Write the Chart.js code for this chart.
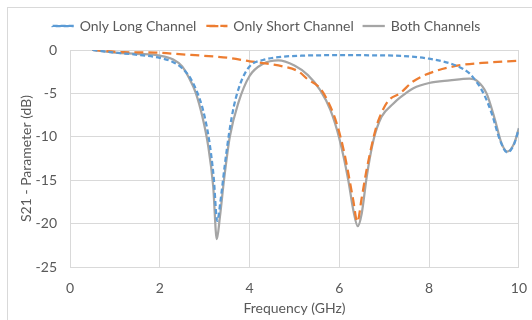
<!DOCTYPE html>
<html>
<head>
<meta charset="utf-8">
<script src="https://cdn.jsdelivr.net/npm/chart.js@4/dist/chart.umd.min.js"></script>
<style>
  html, body { margin: 0; padding: 0; background: #fff; }
  #wrap { position: relative; width: 532px; height: 320px; overflow: hidden; }
  #frame { position: absolute; left: 7px; top: 7px; width: 600px; height: 400px; border: 1px solid #d9d9d9; }
  canvas { position: absolute; left: 0; top: 0; }
</style>
</head>
<body>
<div id="wrap">
  <div id="frame"></div>
  <canvas id="s21Graf" width="532" height="320"></canvas>
</div>
<script>
// Only Long Channel
var longFreq = [0.5, 1.0, 1.5, 2.0, 2.3, 2.5, 2.7, 2.9, 3.0, 3.1, 3.2, 3.28, 3.35, 3.45, 3.55, 3.65, 3.8, 4.0, 4.3, 4.7, 5.2, 6.0, 7.0, 7.6, 8.0, 8.3, 8.6, 8.9, 9.1, 9.25, 9.4, 9.58, 9.74, 9.88, 10];
var longS21 = [0, -0.3, -0.55, -0.9, -1.4, -2.1, -3.4, -5.8, -7.7, -10.4, -14.6, -19.7, -17.5, -13.2, -9.4, -6.5, -3.8, -1.9, -1.15, -0.8, -0.65, -0.6, -0.62, -0.75, -1.0, -1.3, -1.8, -2.7, -4.0, -5.4, -7.4, -10.4, -11.8, -11.0, -9.1];

// Only Short Channel
var shortFreq = [0.5, 1.2, 1.9, 2.5, 3.2, 3.6, 4.0, 4.3, 4.75, 5.1, 5.3, 5.57, 5.8, 5.95, 6.1, 6.2, 6.31, 6.4, 6.5, 6.6, 6.7, 6.8, 6.9, 7.1, 7.35, 7.65, 8.1, 8.7, 9.3, 10];
var shortS21 = [0, -0.25, -0.3, -0.5, -0.75, -0.95, -1.3, -1.5, -1.9, -2.5, -3.4, -4.4, -6.5, -8.6, -11.6, -14.2, -17.3, -19.8, -17.0, -14.0, -11.5, -9.3, -7.7, -5.8, -5.0, -3.6, -2.5, -1.75, -1.45, -1.25];

// Both Channels
var bothFreq = [0.5, 1.0, 1.5, 2.0, 2.3, 2.5, 2.65, 2.8, 2.95, 3.08, 3.19, 3.27, 3.34, 3.43, 3.56, 3.75, 4.0, 4.3, 4.64, 5.0, 5.3, 5.57, 5.8, 6.0, 6.2, 6.31, 6.41, 6.5, 6.61, 6.76, 6.94, 7.2, 7.35, 7.65, 8.0, 8.46, 8.9, 9.08, 9.28, 9.47, 9.61, 9.74, 9.9, 10];
var bothS21 = [0, -0.3, -0.45, -0.65, -1.1, -1.9, -3.2, -4.9, -7.7, -11.1, -15.7, -21.8, -19.2, -15.0, -10.0, -6.1, -3.0, -1.6, -1.2, -1.8, -2.9, -4.6, -6.9, -10.2, -15.0, -18.4, -20.3, -18.8, -14.6, -10.4, -7.7, -6.2, -5.5, -4.4, -3.8, -3.5, -3.3, -3.6, -5.0, -8.1, -10.7, -11.7, -10.7, -9.0];

var xTicks = [0, 2, 4, 6, 8, 10];
var yTicks = [0, -5, -10, -15, -20, -25];

function toPoints(xs, ys) {
    var pts = [];
    for (var i = 0; i < xs.length; i++) {
        pts.push({x: xs[i], y: ys[i]});
    }
    return pts;
}

var textColor = '#595959';
var gridColor = '#d9d9d9';
Chart.defaults.font.family = 'Lato, "Open Sans", sans-serif';
Chart.defaults.color = textColor;

// the legend block gets its height forced so the plot starts at y=50
var legendGap = {
    id: 'legendGap',
    beforeInit: function (chart) {
        var origFit = chart.legend.fit;
        chart.legend.fit = function () {
            origFit.bind(chart.legend)();
            this.height = 41;
        };
    }
};

var ctx = document.getElementById('s21Graf').getContext('2d');
var s21Graf = new Chart(ctx, {
    type: 'line',
    data: {
        datasets: [{
            label: 'Only Long Channel',
            data: toPoints(longFreq, longS21),
            borderColor: '#5b9bd5',
            backgroundColor: '#5b9bd5',
            borderWidth: 2.25,
            borderDash: [5, 3],
        }, {
            label: 'Only Short Channel',
            data: toPoints(shortFreq, shortS21),
            borderColor: '#ed7d31',
            backgroundColor: '#ed7d31',
            borderWidth: 2.25,
            borderDash: [9, 5],
        }, {
            label: 'Both Channels',
            data: toPoints(bothFreq, bothS21),
            borderColor: '#a5a5a5',
            backgroundColor: '#a5a5a5',
            borderWidth: 2.25,
        }]
    },
    plugins: [legendGap],
    options: {
        responsive: false,
        animation: false,
        devicePixelRatio: 1,
        elements: {
            point: { radius: 0 },
            line: { tension: 0, cubicInterpolationMode: 'monotone' }
        },
        layout: { padding: { left: 7, right: 6, top: 9, bottom: 0 } },
        plugins: {
            tooltip: { enabled: false },
            legend: {
                position: 'top',
                labels: {
                    font: { size: 14 },
                    color: textColor,
                    boxWidth: 20,
                    boxHeight: 0.01,
                    padding: 10
                }
            }
        },
        scales: {
            x: {
                type: 'linear',
                min: 0,
                max: 10,
                afterBuildTicks: function (scale) {
                    scale.ticks = xTicks.map(function (v) { return {value: v}; });
                },
                afterFit: function (scale) { scale.height = 53; },
                grid: { color: gridColor, drawTicks: true, tickLength: 8, tickColor: 'rgba(0,0,0,0)' },
                border: { color: gridColor },
                ticks: { font: { size: 14 }, color: textColor, padding: 5, maxRotation: 0 },
                title: { display: true, text: 'Frequency (GHz)', font: { size: 14 }, color: textColor, padding: { top: 4, bottom: 3 } }
            },
            y: {
                min: -25,
                max: 0,
                afterBuildTicks: function (scale) {
                    scale.ticks = yTicks.map(function (v) { return {value: v}; });
                },
                afterFit: function (scale) { scale.width = 63; },
                grid: { color: gridColor, drawTicks: false },
                border: { color: gridColor },
                ticks: { font: { size: 14 }, color: textColor, padding: 13 },
                title: { display: true, text: 'S21 - Parameter (dB)', font: { size: 14 }, color: textColor, padding: { top: 11, bottom: 4 } }
            }
        }
    }
});
</script>
</body>
</html>
